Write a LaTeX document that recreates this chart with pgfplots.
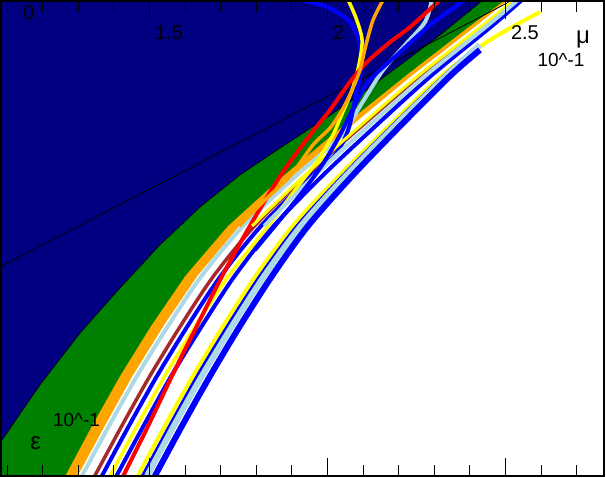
\documentclass[border=0pt]{standalone}
\usepackage{pgfplots}
\pgfplotsset{compat=1.18}
\usepackage{fontspec}
\setmainfont{Liberation Sans}
\definecolor{navyc}{RGB}{0,0,128}
\definecolor{greenc}{RGB}{0,128,0}
\definecolor{orangec}{RGB}{255,165,0}
\definecolor{lbluec}{RGB}{173,216,230}
\definecolor{bluec}{RGB}{0,0,255}
\definecolor{redc}{RGB}{255,0,0}
\definecolor{yellowc}{RGB}{255,255,0}
\definecolor{brownc}{RGB}{165,42,42}
\begin{document}
\begin{tikzpicture}
\useasboundingbox (-1pt,-2pt) rectangle (605pt,476pt);
\begin{axis}[
  at={(0,0)}, anchor=south west,
  scale only axis, width=603pt, height=475pt,
  xmin=1.0828, xmax=2.7766, ymin=-0.042, ymax=4.984,
  axis on top,
  axis line style={line width=1.2pt},
  xtick={1.5,2,2.5},
  minor xtick={1.1,1.2,1.3,1.4,1.6,1.7,1.8,1.9,2.1,2.2,2.3,2.4,2.6,2.7},
  xticklabels={1.5,2,2.5},
  xtick pos=both, xticklabel pos=right,
  ytick=\empty, minor ytick={0,1,2,3,4}, ytick pos=both,
  major tick length=18pt, minor tick length=11pt,
  every tick/.style={black, line width=1pt},
  tick align=inside,
  /pgf/number format/assume math mode=true,
  xticklabel style={anchor=west, xshift=2pt, yshift=-32pt, font=\fontsize{20}{24}\selectfont},
  clip=true,
]
% filled regions
\addplot[fill=orangec, draw=none] coordinates {(1.298,-0.042) (1.374,0.487) (1.452,1.016) (1.539,1.545) (1.634,2.074) (1.752,2.603) (1.902,3.132) (2.066,3.661) (2.235,4.190) (2.417,4.720) (2.507,4.995) (1.08,4.995) (1.08,-0.042)};
\addplot[fill=greenc, draw=none] coordinates {(1.263,-0.042) (1.338,0.487) (1.417,1.016) (1.504,1.545) (1.600,2.074) (1.720,2.603) (1.875,3.132) (2.043,3.661) (2.218,4.190) (2.400,4.720) (2.499,4.995) (1.08,4.995) (1.08,-0.042)};
\addplot[fill=navyc, draw=black, line width=0.6pt] coordinates {(1.080,0.307) (1.192,0.921) (1.305,1.471) (1.417,1.947) (1.529,2.402) (1.642,2.804) (1.754,3.143) (1.867,3.429) (1.979,3.704) (2.091,3.989) (2.204,4.307) (2.316,4.624) (2.437,4.995) (1.08,4.995)};
\addplot[black, line width=0.8pt] coordinates {(1.080,2.169) (2.521,4.995)};
% curves
\addplot[lbluec, line width=4pt, smooth] coordinates {(1.310,-0.042) (1.386,0.487) (1.465,1.016) (1.552,1.545) (1.646,2.074) (1.763,2.603) (1.911,3.132) (2.035,3.545) (2.097,3.905) (2.156,4.254) (2.218,4.519) (2.274,4.762) (2.293,4.995)};
\addplot[brownc, line width=3.5pt, smooth] coordinates {(1.346,-0.042) (1.422,0.487) (1.501,1.016) (1.587,1.545) (1.680,2.074) (1.795,2.603) (1.939,3.132) (2.096,3.661) (2.260,4.190) (2.392,4.550)};
\addplot[bluec, line width=4pt, smooth] coordinates {(1.366,-0.042) (1.442,0.487) (1.521,1.016) (1.607,1.545) (1.700,2.074) (1.813,2.603) (1.954,3.132) (2.021,3.354) (2.058,3.619) (2.080,3.995) (2.094,4.254) (2.091,4.519) (2.063,4.762) (1.999,4.921) (1.923,4.995)};
\addplot[yellowc, line width=3.5pt, smooth] coordinates {(1.389,-0.042) (1.465,0.487) (1.543,1.016) (1.629,1.545) (1.722,2.074) (1.833,2.603) (1.909,2.984) (1.973,3.302) (2.015,3.566) (2.043,3.810) (2.069,4.042) (2.088,4.307) (2.097,4.571) (2.080,4.804) (2.058,4.995)};
\addplot[bluec, line width=4pt, smooth] coordinates {(1.407,-0.042) (1.483,0.487) (1.561,1.016) (1.647,1.545) (1.739,2.074) (1.849,2.603) (1.985,3.132) (2.135,3.661) (2.290,4.190) (2.462,4.720) (2.546,4.995)};
\addplot[redc, line width=4pt, smooth] coordinates {(1.426,-0.042) (1.496,0.487) (1.563,1.016) (1.633,1.545) (1.704,2.074) (1.782,2.603) (1.867,3.132) (1.951,3.566) (2.007,3.831) (2.063,4.127) (2.111,4.339) (2.176,4.550) (2.232,4.709) (2.316,4.995)};
\addplot[yellowc, line width=4pt, smooth] coordinates {(1.467,-0.042) (1.543,0.487) (1.622,1.016) (1.707,1.545) (1.798,2.074) (1.902,2.603) (2.032,3.132) (2.173,3.661) (2.320,4.190) (2.456,4.571) (2.597,4.868)};
\addplot[bluec, line width=3pt, smooth] coordinates {(1.480,-0.042) (1.556,0.487) (1.634,1.016) (1.719,1.545) (1.810,2.074) (1.914,2.603) (2.042,3.132) (2.181,3.661) (2.326,4.190) (2.414,4.487)};
\addplot[lbluec, line width=6pt, smooth] coordinates {(1.493,-0.042) (1.568,0.487) (1.647,1.016) (1.732,1.545) (1.822,2.074) (1.925,2.603) (2.051,3.132) (2.189,3.661) (2.333,4.190) (2.428,4.519)};
\addplot[bluec, line width=6pt, smooth] coordinates {(1.515,-0.042) (1.591,0.487) (1.670,1.016) (1.754,1.545) (1.844,2.074) (1.945,2.603) (2.069,3.132) (2.204,3.661) (2.344,4.190) (2.428,4.466)};
% curves that leave the bundle
\addplot[yellowc, line width=3pt, smooth] coordinates {(1.788,2.603) (1.934,3.132) (2.091,3.661) (2.254,4.190) (2.434,4.720) (2.524,4.995)};
\addplot[lbluec, line width=4pt, smooth] coordinates {(1.822,2.603) (1.962,3.132) (2.115,3.661) (2.274,4.190) (2.448,4.720) (2.535,4.995)};
\addplot[bluec, line width=4pt, smooth] coordinates {(1.796,2.349) (1.852,2.603) (1.923,2.931) (1.985,3.249) (2.035,3.566) (2.077,3.884) (2.119,4.148) (2.204,4.444) (2.288,4.730) (2.386,4.995)};
\addplot[orangec, line width=3.5pt, smooth] coordinates {(1.752,2.603) (1.824,2.878) (1.895,3.132) (1.959,3.460) (2.007,3.640) (2.041,3.831) (2.069,4.042) (2.091,4.254) (2.108,4.519) (2.128,4.783) (2.156,4.995)};
% labels
\node[font=\fontsize{20}{24}\selectfont] at (axis cs:1.161,4.857) {0};
\node[font=\fontsize{24}{28}\selectfont] at (axis cs:2.718,4.582) {μ};
\node[font=\fontsize{19}{22}\selectfont] at (axis cs:2.656,4.360) {10\^{}-1};
\node[font=\fontsize{19}{22}\selectfont] at (axis cs:1.295,0.556) {10\^{}-1};
\node[font=\fontsize{24}{28}\selectfont] at (axis cs:1.180,0.302) {ε};
\end{axis}
\end{tikzpicture}
\end{document}
